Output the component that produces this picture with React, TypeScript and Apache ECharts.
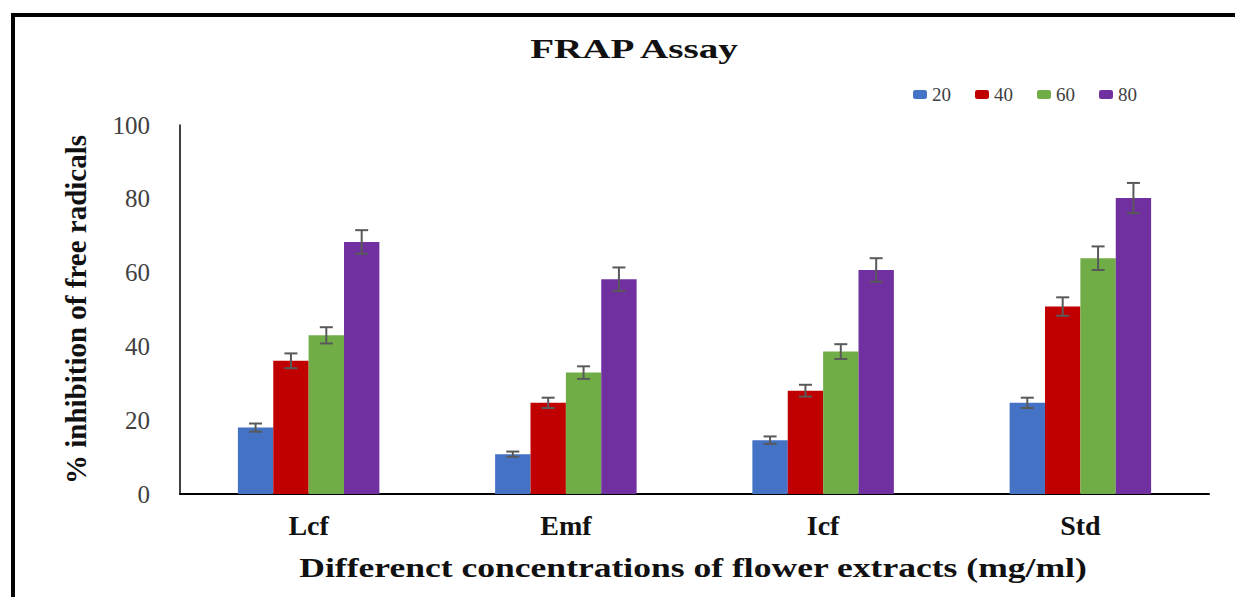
import React, { useEffect, useRef } from "react";
import * as echarts from "echarts";

const categories = ["Lcf", "Emf", "Icf", "Std"];
const seriesNames = ["20", "40", "60", "80"];
const seriesColors = ["#4472C4", "#C00000", "#70AD47", "#7030A0"];
const values20 = [18.0, 10.8, 14.6, 24.7];
const values40 = [36.1, 24.7, 28.0, 50.8];
const values60 = [43.0, 32.9, 38.6, 63.9];
const values80 = [68.3, 58.2, 60.7, 80.2];
const err20 = [1.1, 0.7, 1.0, 1.4];
const err40 = [2.0, 1.4, 1.6, 2.5];
const err60 = [2.2, 1.7, 2.0, 3.2];
const err80 = [3.2, 3.2, 3.2, 4.1];
const yTicks = [0, 20, 40, 60, 80, 100];

const allValues = [values20, values40, values60, values80];
const allErrors = [err20, err40, err60, err80];

const BAR_CATEGORY_GAP = 0.45;

export default function App() {
  const ref = useRef<HTMLDivElement>(null);
  useEffect(() => {
    if (!ref.current) return;
    const chart = echarts.init(ref.current, null, { renderer: "svg" });

    const barSeries = seriesNames.map((name, i) => ({
      name,
      type: "bar",
      data: allValues[i],
      barGap: "0%",
      barCategoryGap: "45%",
      itemStyle: { color: seriesColors[i] },
      z: 2,
    }));

    const errSeries = seriesNames.map((name, i) => ({
      name: name + "-err",
      type: "custom",
      z: 5,
      data: allValues[i].map((v, c) => [c, v - allErrors[i][c], v + allErrors[i][c]]),
      encode: { x: 0, y: [1, 2] },
      renderItem: (params: any, api: any) => {
        const c = api.value(0);
        const lo = api.coord([c, api.value(1)]);
        const hi = api.coord([c, api.value(2)]);
        const band = api.size([1, 0])[0];
        const barW = (band * (1 - BAR_CATEGORY_GAP)) / 4;
        const x = lo[0] + (i - 1.5) * barW;
        const cap = 6.5;
        const style = { stroke: "#595959", lineWidth: 2 };
        return {
          type: "group",
          children: [
            { type: "line", shape: { x1: x, y1: lo[1], x2: x, y2: hi[1] }, style },
            { type: "line", shape: { x1: x - cap, y1: lo[1], x2: x + cap, y2: lo[1] }, style },
            { type: "line", shape: { x1: x - cap, y1: hi[1], x2: x + cap, y2: hi[1] }, style },
          ],
        };
      },
      silent: true,
    }));

    chart.setOption({
      animation: false,
      backgroundColor: "#ffffff",
      legend: {
        data: seriesNames,
        left: 908,
        top: 80,
        itemWidth: 14,
        itemHeight: 9,
        itemGap: 24,
        textStyle: { fontFamily: "Liberation Serif", fontSize: 19, color: "#404040" },
      },
      grid: { left: 180, right: 26, top: 125, bottom: 103, containLabel: false },
      xAxis: {
        type: "category",
        data: categories,
        axisLine: { lineStyle: { color: "#000", width: 2 } },
        axisTick: { show: false },
        axisLabel: {
          margin: 17,
          fontFamily: "Liberation Serif",
          fontWeight: "bold",
          fontSize: 28,
          color: "#111",
        },
      },
      yAxis: {
        type: "value",
        min: 0,
        max: 100,
        interval: 20,
        name: "% inhibition of free radicals",
        nameLocation: "middle",
        nameRotate: 90,
        nameGap: 90,
        nameTextStyle: {
          fontFamily: "Liberation Serif",
          fontWeight: "bold",
          fontSize: 29,
          color: "#111",
        },
        axisLine: { show: true, lineStyle: { color: "#000", width: 1.5 } },
        axisTick: { show: false },
        splitLine: { show: false },
        axisLabel: {
          margin: 30,
          fontFamily: "Liberation Serif",
          fontSize: 25,
          color: "#404040",
          formatter: (v: number) => (yTicks.includes(v) ? String(v) : ""),
        },
      },
      graphic: [
        { type: "rect", shape: { x: 11, y: 13, width: 1224, height: 4 }, style: { fill: "#000" } },
        { type: "rect", shape: { x: 11, y: 13, width: 4, height: 584 }, style: { fill: "#000" } },
        {
          type: "text",
          x: 634,
          y: 49,
          scaleX: 1.45,
          style: {
            text: "FRAP Assay",
            fontFamily: "Liberation Serif",
            fontWeight: "bold",
            fontSize: 27,
            fill: "#111",
            align: "center",
            verticalAlign: "middle",
          },
        },
        {
          type: "text",
          x: 693,
          y: 567,
          scaleX: 1.27,
          style: {
            text: "Differenct concentrations of flower extracts (mg/ml)",
            fontFamily: "Liberation Serif",
            fontWeight: "bold",
            fontSize: 28,
            fill: "#111",
            align: "center",
            verticalAlign: "middle",
          },
        },
      ],
      series: [...barSeries, ...errSeries],
    });
    return () => chart.dispose();
  }, []);
  return (
    <div
      ref={ref}
      style={{ position: "fixed", left: 0, top: 0, width: 1235, height: 597, background: "#fff" }}
    />
  );
}
